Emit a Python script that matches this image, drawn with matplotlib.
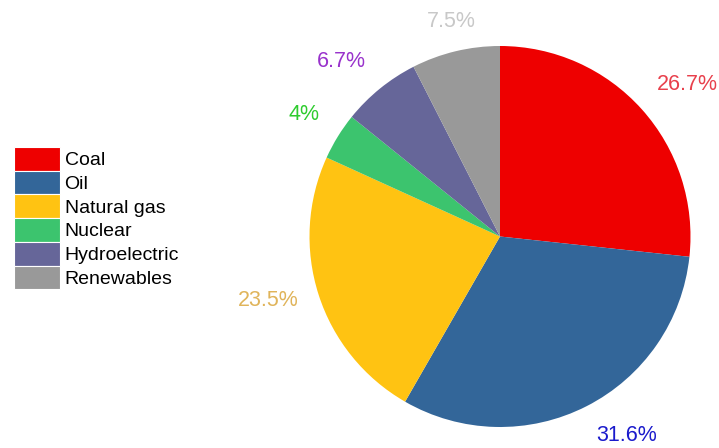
"""Pie chart of energy sources with outside percentage labels."""

import matplotlib

matplotlib.use("Agg")
import matplotlib.pyplot as plt
import numpy as np
from matplotlib.patches import Patch

sources = ["Coal", "Oil", "Natural gas", "Nuclear", "Hydroelectric", "Renewables"]
shares = [26.7, 31.6, 23.5, 4.0, 6.7, 7.5]
wedge_colors = ["#EE0000", "#336699", "#FFC312", "#3CC46E", "#666699", "#999999"]
label_colors = ["#E8404C", "#1A1ACC", "#E0B45A", "#2ECC2E", "#9933CC", "#C8C8C8"]
# per-label nudge: (distance in radii, angle shift in degrees)
label_nudge = [(1.265, -2.8), (1.24, 5.4), (1.265, -2.3), (1.21, -0.2), (1.24, 3.0), (1.16, -0.7)]

plt.rcParams["font.family"] = ["Liberation Sans", "DejaVu Sans"]

W, H = 719, 448
fig = plt.figure(figsize=(W / 100, H / 100), dpi=100)

cx, cy, r = 500, 236.5, 190.5
ax = fig.add_axes([(cx - r) / W, (H - cy - r) / H, 2 * r / W, 2 * r / H])

wedges, _ = ax.pie(
    shares,
    colors=wedge_colors,
    startangle=90,
    counterclock=False,
    wedgeprops={"linewidth": 0},
)

for w, value, color, (dist, shift) in zip(wedges, shares, label_colors, label_nudge):
    ang = np.deg2rad((w.theta1 + w.theta2) / 2 + shift)
    ax.text(
        dist * np.cos(ang),
        dist * np.sin(ang),
        f"{value:g}%",
        color=color,
        fontsize=15.5,
        ha="center",
        va="center",
    )

ax.set_xlim(-1, 1)
ax.set_ylim(-1, 1)
ax.set_aspect("equal")
ax.axis("off")

handles = [Patch(facecolor=c, edgecolor="white", linewidth=0.8) for c in wedge_colors]
fig.legend(
    handles,
    sources,
    loc="upper left",
    bbox_to_anchor=(14 / W, 1 - 147 / H),
    frameon=False,
    fontsize=14,
    handlelength=2.35,
    handleheight=1.5,
    handletextpad=0.25,
    labelspacing=0.0,
    borderpad=0,
    borderaxespad=0,
)

fig.savefig("out.png", dpi=100)
